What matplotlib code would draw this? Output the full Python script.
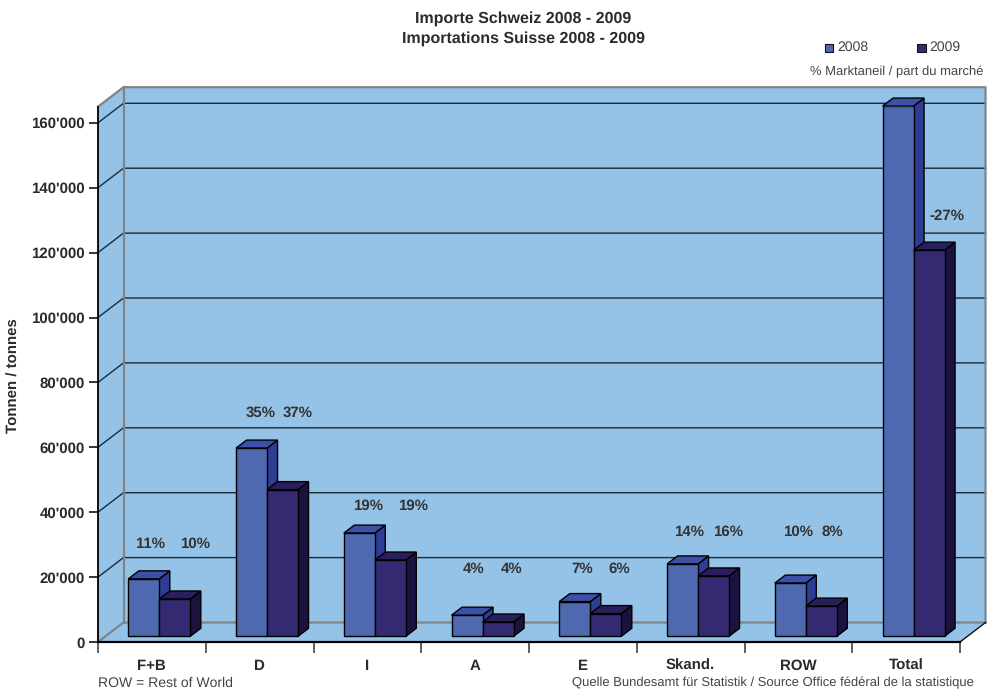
import matplotlib
matplotlib.use('Agg')
import matplotlib.pyplot as plt
from matplotlib.patches import Polygon, Rectangle
import numpy as np

categories = ['F+B', 'D', 'I', 'A', 'E', 'Skand.', 'ROW', 'Total']
values_2008 = [17700, 58000, 31800, 6500, 10700, 22300, 16400, 163400]
values_2009 = [11500, 45200, 23500, 4400, 7000, 18600, 9300, 119000]
share_2008 = ['11%', '35%', '19%', '4%', '7%', '14%', '10%', '']
share_2009 = ['10%', '37%', '19%', '4%', '6%', '16%', '8%', '-27%']
y_ticks = [0, 20000, 40000, 60000, 80000, 100000, 120000, 140000, 160000]
y_labels = ['0', "20'000", "40'000", "60'000", "80'000", "100'000", "120'000", "140'000", "160'000"]

W, H = 991, 692
plt.rcParams['font.family'] = ['Liberation Sans', 'DejaVu Sans']
plt.rcParams['text.hinting'] = 'no_hinting'
plt.rcParams['text.hinting_factor'] = 1
txt = '#2b2b2b'
wall = '#95c3e8'
grey = '#7f8488'
front = {'a': '#4f69b0', 'b': '#342a72'}
top = {'a': '#3c50a8', 'b': '#281f5c'}
side = {'a': '#2f3c94', 'b': '#1c1240'}

fig = plt.figure(figsize=(W / 100, H / 100), dpi=100)
# axes = front plane of the fake 3d box
ax = fig.add_axes([98 / W, 1 - 642 / H, 862 / W, (642 - 106.7) / H])
ax.set_xlim(0, 8)
ymax = (642 - 106.7) / 64.9 * 20000
ax.set_ylim(0, ymax)
ax.patch.set_visible(False)

# offsets in data units
px_x = 8 / 862
px_y = ymax / (642 - 106.7)
ddx, ddy = 25.5 * px_x, 19.5 * px_y    # box depth
bdx, bdy = 10.5 * px_x, 8 * px_y       # bar depth
base = 5.7 * px_y                      # bars stand a bit inside the floor
bar_w = 31 * px_x
start = 30.3 * px_x


def poly(pts, fc, ec='none', lw=0.0, z=1):
    ax.add_patch(Polygon(pts, closed=True, fc=fc, ec=ec, lw=lw, zorder=z, clip_on=False, joinstyle='miter'))


# walls and floor
poly([(ddx, ddy), (8 + ddx, ddy), (8 + ddx, ymax + ddy), (ddx, ymax + ddy)], wall)
poly([(0, 0), (ddx, ddy), (ddx, ymax + ddy), (0, ymax)], wall)
poly([(0, 0), (8, 0), (8 + ddx, ddy), (ddx, ddy)], wall)

# gridlines on back and left wall
for t in y_ticks[1:]:
    ax.plot([0, ddx, 8 + ddx], [t, t + ddy, t + ddy], color='#1f2a33', lw=1.0, zorder=2, clip_on=False)

# box outline
ax.plot([0, ddx, 8 + ddx, 8 + ddx], [ymax, ymax + ddy, ymax + ddy, ddy], color=grey, lw=1.6, zorder=2, clip_on=False)
ax.plot([ddx, ddx], [ddy, ymax + ddy], color=grey, lw=1.6, zorder=2, clip_on=False)
ax.plot([0, ddx, 8 + ddx], [0, ddy, ddy], color=grey, lw=1.6, zorder=2, clip_on=False)
ax.plot([8, 8 + ddx], [0, ddy], color='#111111', lw=1.0, zorder=2, clip_on=False)


def bar3d(x, val, key, z):
    y1 = base + val
    poly([(x + bar_w, y1), (x + bar_w + bdx, y1 + bdy), (x + bar_w + bdx, base + bdy), (x + bar_w, base)],
         side[key], 'black', 1.0, z)
    poly([(x, y1), (x + bdx, y1 + bdy), (x + bar_w + bdx, y1 + bdy), (x + bar_w, y1)],
         top[key], 'black', 1.0, z)
    ax.bar(x, val, width=bar_w, bottom=base, align='edge', color=front[key], edgecolor='black', lw=1.0, zorder=z)


for i in range(len(categories)):
    bar3d(i + start, values_2008[i], 'a', 3)
    bar3d(i + start + bar_w, values_2009[i], 'b', 4)

# axes
for s in ['top', 'right']:
    ax.spines[s].set_visible(False)
ax.spines['left'].set_linewidth(1.3)
ax.spines['bottom'].set_linewidth(1.6)
ax.spines['left'].set_zorder(6)
ax.spines['bottom'].set_zorder(6)
ax.set_yticks(y_ticks)
ax.set_yticklabels(y_labels, fontsize=10.6, fontweight='bold', color=txt)
ax.tick_params(axis='y', length=6.5, width=1.1, pad=3)
ax.set_xticks(np.arange(9))
ax.set_xticklabels([])
ax.tick_params(axis='x', length=8, width=1.1, color='#333333')
for i, c in enumerate(categories):
    ax.annotate(c, (i + 0.5, 0), xytext=(0, -27.5), textcoords='offset pixels',
                ha='center', va='baseline', fontsize=10.6, fontweight='bold', color=txt, annotation_clip=False)


def ftext(px, py, s, **kw):
    kw.setdefault('color', txt)
    kw.setdefault('va', 'center')
    fig.text(px / W, 1 - py / H, s, **kw)


# market share labels
left_px = [150, 261, 368, 474, 582, 689, 798, 0]
right_px = [195, 298, 413, 512, 619, 728, 832, 947]
label_py = [548, 417, 510, 573, 573, 536, 536, 220]
for i in range(len(categories)):
    if share_2008[i]:
        ftext(left_px[i], label_py[i], share_2008[i], ha='center', va='baseline', fontsize=10.6, fontweight='bold', color='#333333')
    ftext(right_px[i], label_py[i], share_2009[i], ha='center', va='baseline', fontsize=10.6, fontweight='bold', color='#333333')

ftext(523, 18.5, 'Importe Schweiz 2008 - 2009', ha='center', fontsize=11.4, fontweight='bold')
ftext(523, 39, 'Importations Suisse 2008 - 2009', ha='center', fontsize=11.4, fontweight='bold')
ftext(14, 375.5, 'Tonnen / tonnes', ha='center', rotation=90, fontsize=11.0, fontweight='bold')
ftext(983, 71.5, '% Marktaneil / part du marché', ha='right', fontsize=9.6, color='#444444')
ftext(98, 683, 'ROW = Rest of World', ha='left', fontsize=9.9, color='#444444')
ftext(974, 683, 'Quelle Bundesamt für Statistik / Source Office fédéral de la statistique', ha='right', fontsize=9.55, color='#444444')

# legend
for px, key, lab in [(824.5, 'a', '2008'), (917, 'b', '2009')]:
    fig.add_artist(Rectangle((px / W, 1 - 52 / H), 8.5 / W, 8.5 / H, transform=fig.transFigure,
                             fc=front[key], ec='#111111', lw=0.8))
    ftext(px + 12.5, 47.5, lab, ha='left', fontsize=9.8, color='#444444')

fig.savefig('out.png', dpi=100)
